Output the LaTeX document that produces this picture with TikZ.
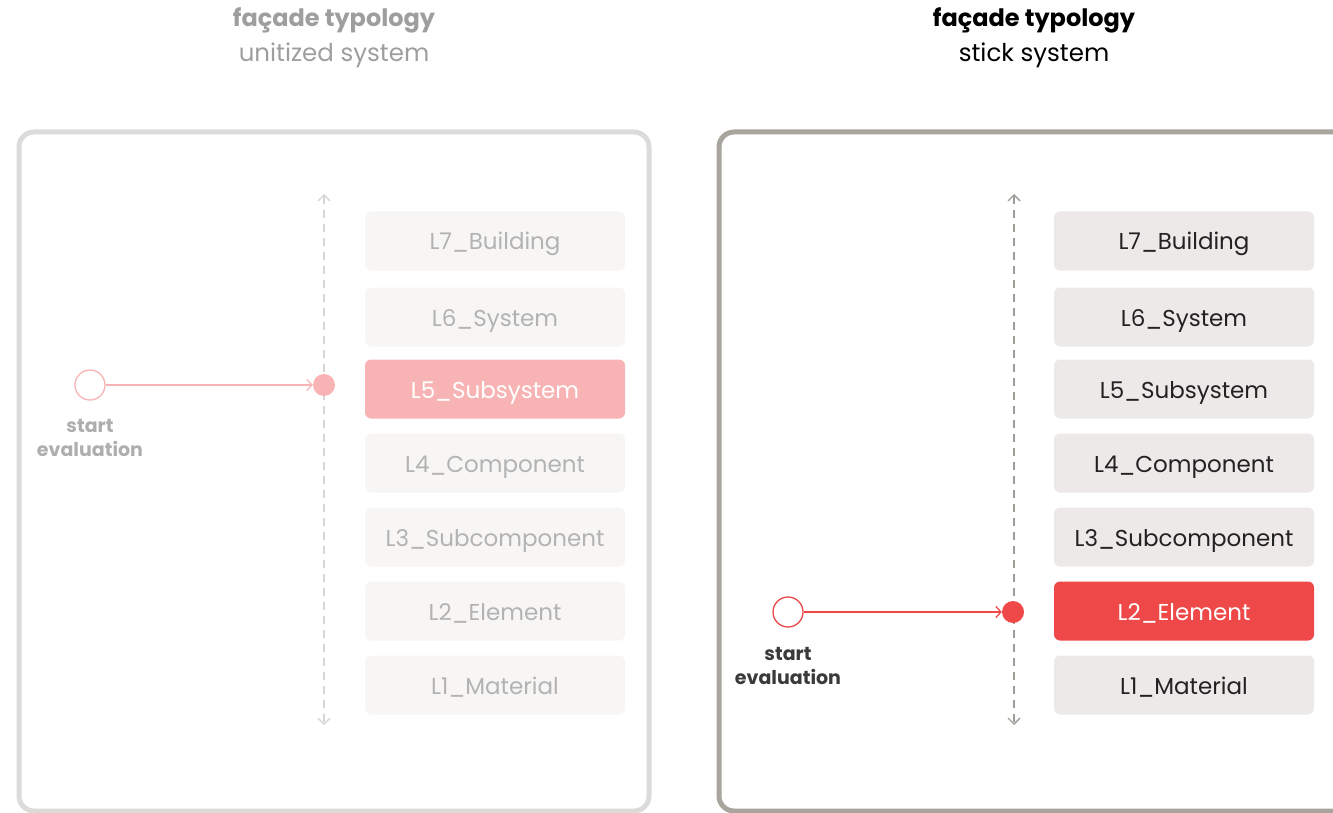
\documentclass[tikz,border=0pt]{standalone}
\usepackage{fontspec}
\setmainfont{Poppins}
\usetikzlibrary{arrows.meta}
\definecolor{lborder}{HTML}{DCDBDA}
\definecolor{rborder}{HTML}{A8A49E}
\definecolor{lfill}{HTML}{F7F6F5}
\definecolor{rfill}{HTML}{ECE9E8}
\definecolor{ltext}{HTML}{B3B3B3}
\definecolor{rtext}{HTML}{222222}
\definecolor{pink}{HTML}{F8B4B4}
\definecolor{red}{HTML}{EF4848}
\definecolor{laxis}{HTML}{D6D6D6}
\definecolor{raxis}{HTML}{A09D98}
\definecolor{ltitle}{HTML}{9E9E9E}
\definecolor{lstart}{HTML}{AEAEAE}
\definecolor{rstart}{HTML}{3A3A3A}
\tikzset{
  panel/.style={rounded corners=15pt, line width=5pt},
  lvl/.style={rounded corners=6pt, minimum width=260pt, minimum height=59pt, inner sep=0pt,
    text height=18pt, text depth=0pt, font=\fontsize{23}{26}\selectfont},
  lbox/.style={lvl, fill=lfill, text=ltext},
  rbox/.style={lvl, fill=rfill, text=rtext},
  axisline/.style={dashed, dash pattern=on 8pt off 6pt, line width=1.4pt, {Straight Barb[length=6pt,width=12pt]}-{Straight Barb[length=6pt,width=12pt]}},
  startc/.style={circle, draw, line width=1.3pt, minimum size=30pt, inner sep=0pt, fill=white},
  dotc/.style={circle, minimum size=22pt, inner sep=0pt},
  startlbl/.style={font=\fontsize{19}{24}\selectfont\bfseries, align=center},
  ttl/.style={font=\fontsize{24}{28}\selectfont\bfseries},
  sub/.style={font=\fontsize{24.5}{28}\selectfont},
  conn/.style={line width=1.3pt, -{Straight Barb[length=5pt,width=11pt]}}
}
\begin{document}
\begin{tikzpicture}[x=1pt,y=-1pt]
\useasboundingbox (0,0) rectangle (1333,813);
\clip (0,0) rectangle (1333,813);
% titles
\node[ttl, text=ltitle] (lt) at (334,20) {façade typology};
\node[sub, text=ltitle] (ls) at (334,55) {unitized system};
\node[ttl, text=black] (rt) at (1034,20) {façade typology};
\node[sub, text=black] (rs) at (1034,55) {stick system};
% panels
\draw[panel, lborder] (19,132) rectangle (649,811);
\draw[panel, rborder] (719,132) rectangle (1360,811);
% left axis
\coordinate (lat) at (324,194);
\coordinate (lab) at (324,725);
\draw[axisline, laxis] (lat) -- (lab);
% left boxes
\node[lbox] (l7) at (495,241) {L7\_Building};
\node[lbox] (l6) at (495,317) {L6\_System};
\node[lvl, fill=pink, text=white] (l5) at (495,389) {L5\_Subsystem};
\node[lbox] (l4) at (495,463) {L4\_Component};
\node[lbox] (l3) at (495,537) {L3\_Subcomponent};
\node[lbox] (l2) at (495,611) {L2\_Element};
\node[lbox] (l1) at (495,685) {L1\_Material};
% left start
\node[startc, draw=pink] (ls0) at (90,385) {};
\node[dotc, fill=pink] (ld) at (324,385) {};
\draw[conn, pink] (ls0) -- (ld);
\node[startlbl, text=lstart] (lsl) at (90,438) {start\\evaluation};
% right axis
\coordinate (rat) at (1014,194);
\coordinate (rab) at (1014,725);
\draw[axisline, raxis] (rat) -- (rab);
% right boxes
\node[rbox] (r7) at (1184,241) {L7\_Building};
\node[rbox] (r6) at (1184,317) {L6\_System};
\node[rbox] (r5) at (1184,389) {L5\_Subsystem};
\node[rbox] (r4) at (1184,463) {L4\_Component};
\node[rbox] (r3) at (1184,537) {L3\_Subcomponent};
\node[lvl, fill=red, text=white] (r2) at (1184,611) {L2\_Element};
\node[rbox] (r1) at (1184,685) {L1\_Material};
% right start
\node[startc, draw=red] (rs0) at (788,612) {};
\node[dotc, fill=red] (rd) at (1013,612) {};
\draw[conn, red] (rs0) -- (rd);
\node[startlbl, text=rstart] (rsl) at (788,666) {start\\evaluation};
\end{tikzpicture}
\end{document}
